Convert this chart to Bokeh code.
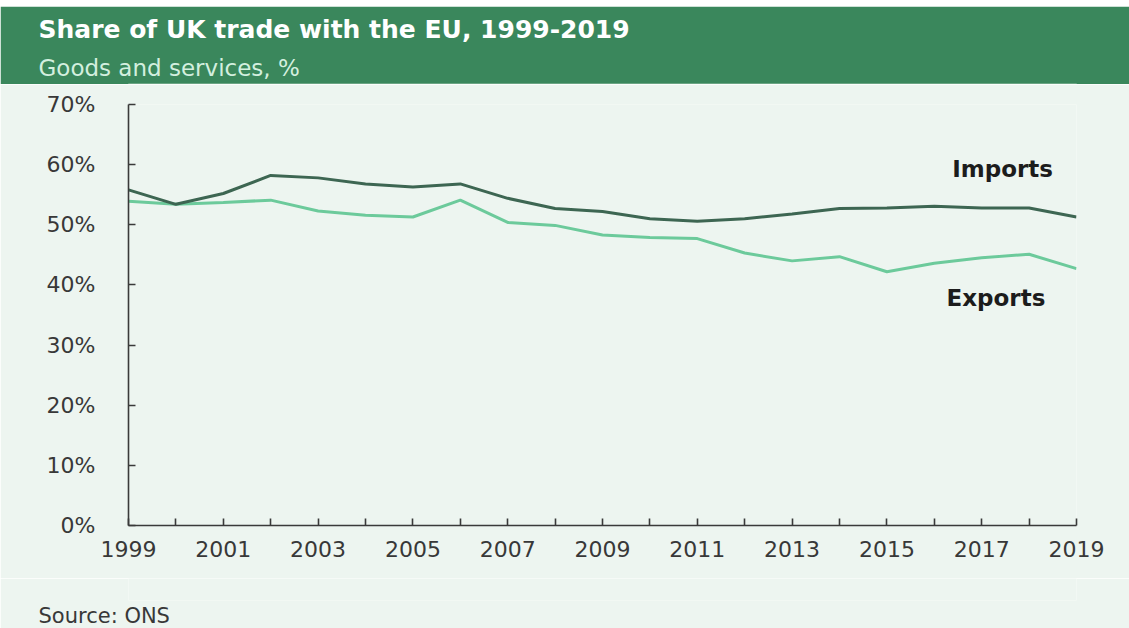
from bokeh.plotting import figure
from bokeh.layouts import column
from bokeh.models import Label, Title, FixedTicker, PrintfTickFormatter, ColumnDataSource, Spacer
from bokeh.embed import file_html
from bokeh.resources import INLINE

# ---- data ----
years = list(range(1999, 2020))
imports = [55.8, 53.4, 55.2, 58.2, 57.8, 56.8, 56.3, 56.8, 54.4, 52.7, 52.2,
           51.0, 50.6, 51.0, 51.8, 52.7, 52.8, 53.1, 52.8, 52.8, 51.3]
exports = [53.9, 53.4, 53.7, 54.1, 52.3, 51.6, 51.3, 54.1, 50.4, 49.9, 48.3,
           47.9, 47.7, 45.3, 44.0, 44.7, 42.2, 43.6, 44.5, 45.1, 42.7]
y_ticks = [0, 10, 20, 30, 40, 50, 60, 70]
title_text = "Share of UK trade with the EU, 1999-2019"
subtitle_text = "Goods and services, %"
source_text = "Source: ONS"

FONT = "DejaVu Sans"
BG = "#edf5f0"
GREEN = "#3a875c"
IMP_COL = "#3d6652"
EXP_COL = "#6cca9b"
TXT = "#383838"

W = 1129
LEFT = 128
RIGHT = 53


def blank(fig, fill):
    fig.axis.visible = False
    fig.grid.visible = False
    fig.outline_line_color = None
    fig.background_fill_color = fill
    fig.border_fill_color = fill
    fig.title.visible = False


# ---- header band ----
h = figure(width=W, height=78, x_range=(0, 1), y_range=(0, 1),
           output_backend="svg", toolbar_location=None,
           min_border_left=LEFT, min_border_right=RIGHT,
           min_border_top=0, min_border_bottom=0)
blank(h, GREEN)
h.add_layout(Title(text=subtitle_text, align="left", offset=38 - LEFT, standoff=6,
                   text_font=FONT, text_font_size="23px", text_font_style="normal",
                   text_color="#d3efdf"), "above")
h.add_layout(Title(text=title_text, align="left", offset=38 - LEFT, standoff=12,
                   text_font=FONT, text_font_size="25px", text_font_style="bold",
                   text_color="#ffffff"), "above")

# ---- main chart ----
p = figure(width=W, height=494, x_range=(1999, 2019), y_range=(0, 70),
           output_backend="svg", toolbar_location=None,
           min_border_left=LEFT, min_border_right=RIGHT,
           min_border_top=20, min_border_bottom=53)
p.background_fill_color = BG
p.border_fill_color = BG
p.outline_line_color = None
p.grid.visible = False

src = ColumnDataSource(dict(year=years, imp=imports, exp=exports))
p.line("year", "exp", source=src, line_color=EXP_COL, line_width=3)
p.line("year", "imp", source=src, line_color=IMP_COL, line_width=3)

# x axis
p.xaxis.ticker = FixedTicker(ticks=years)
p.xaxis.major_label_overrides = {y: ("" if (y - 1999) % 2 else str(y)) for y in years}
p.xaxis.minor_tick_line_color = None
p.xaxis.major_tick_in = 7
p.xaxis.major_tick_out = 0
p.xaxis.axis_line_color = "#3a3a3a"
p.xaxis.axis_line_width = 1.6
p.xaxis.major_tick_line_color = "#3a3a3a"
p.xaxis.major_tick_line_width = 1.6
p.xaxis.major_label_standoff = 15
p.xaxis.major_label_text_font = FONT
p.xaxis.major_label_text_font_size = "22px"
p.xaxis.major_label_text_color = TXT

# y axis
p.yaxis.ticker = FixedTicker(ticks=y_ticks)
p.yaxis.formatter = PrintfTickFormatter(format="%d%%")
p.yaxis.minor_tick_line_color = None
p.yaxis.major_tick_in = 7
p.yaxis.major_tick_out = 0
p.yaxis.axis_line_color = "#3a3a3a"
p.yaxis.axis_line_width = 1.6
p.yaxis.major_tick_line_color = "#3a3a3a"
p.yaxis.major_tick_line_width = 1.6
p.yaxis.major_label_standoff = 33
p.yaxis.major_label_text_font = FONT
p.yaxis.major_label_text_font_size = "22px"
p.yaxis.major_label_text_color = TXT

# series labels
p.add_layout(Label(x=2017.44, y=59.2, text="Imports", text_font=FONT, text_font_size="23px",
                   text_font_style="bold", text_color="#1c1c1c",
                   text_align="center", text_baseline="middle"))
p.add_layout(Label(x=2017.3, y=37.8, text="Exports", text_font=FONT, text_font_size="23px",
                   text_font_style="bold", text_color="#1c1c1c",
                   text_align="center", text_baseline="middle"))

# ---- footer with source ----
f = figure(width=W, height=50, x_range=(0, 1), y_range=(0, 1),
           output_backend="svg", toolbar_location=None,
           min_border_left=LEFT, min_border_right=RIGHT,
           min_border_top=0, min_border_bottom=0)
blank(f, BG)
f.add_layout(Title(text=source_text, align="left", offset=38 - LEFT, standoff=2,
                   text_font=FONT, text_font_size="21px", text_font_style="normal",
                   text_color=TXT), "below")

layout = column(Spacer(width=W, height=6), h, p, f, spacing=0)
open("out.html", "w").write(file_html(layout, INLINE))
